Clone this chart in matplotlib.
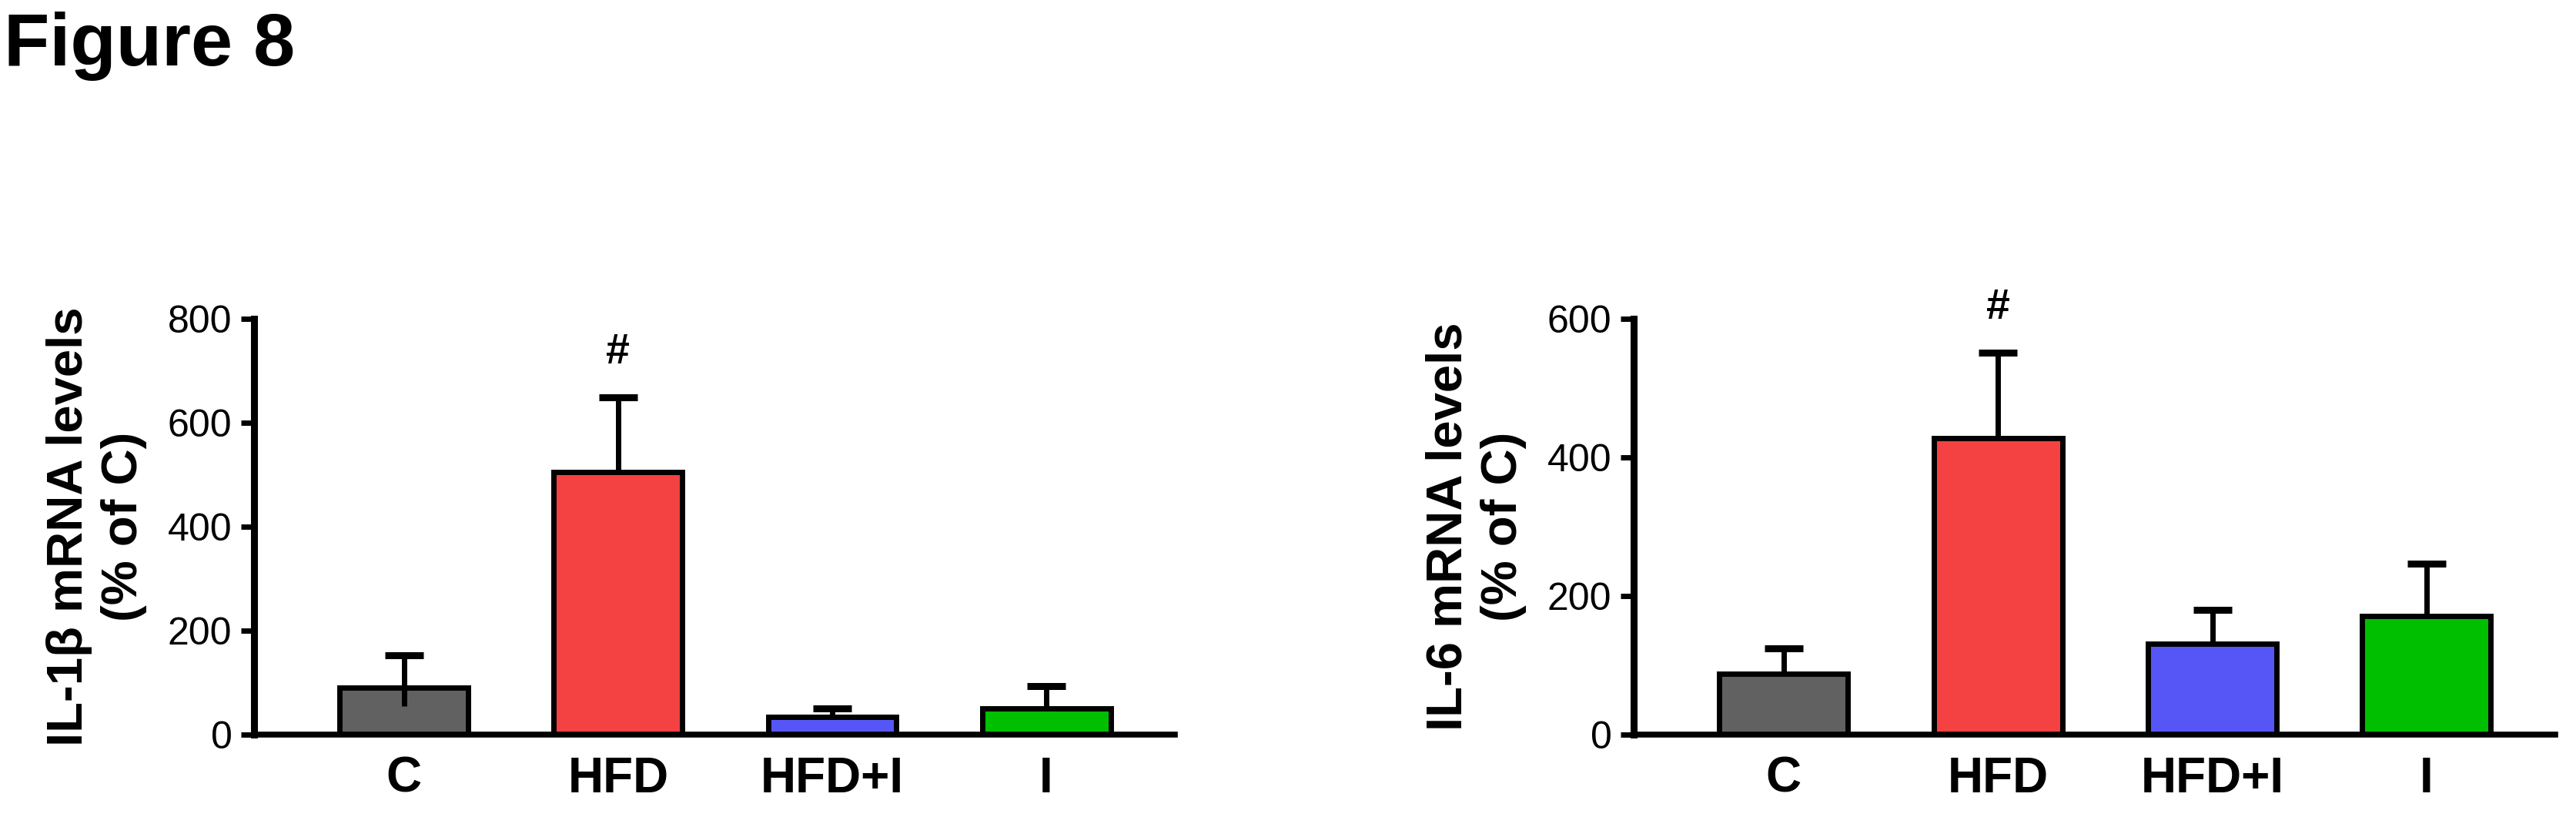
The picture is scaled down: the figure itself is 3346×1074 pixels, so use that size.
import numpy as np
from matplotlib import pyplot as plt

plt.rcParams["font.family"] = ["Liberation Sans", "DejaVu Sans"]

# Data
groups = ["C", "HFD", "HFD+I", "I"]
bar_colors = ["#616161", "#F44141", "#5656F6", "#00BF00"]

il1b_mean = [90, 505, 34, 50]
il1b_err_up = [62, 144, 16, 44]
il1b_err_down = [35, 0, 0, 0]  # whisker that shows inside the C bar
il1b_marks = ["", "#", "", ""]

il6_mean = [88, 428, 131, 171]
il6_err_up = [37, 123, 49, 76]
il6_err_down = [0, 0, 0, 0]
il6_marks = ["", "#", "", ""]

W, H = 3346, 1074
fig = plt.figure(figsize=(W / 100, H / 100), dpi=100)


def draw_panel(ax, mean, err_up, err_down, marks, ylabel, ymax):
    x = np.arange(len(groups))
    ax.bar(x, mean, width=0.6, color=bar_colors, edgecolor="black",
           linewidth=5, zorder=2)
    eb = ax.errorbar(x, mean, yerr=[err_down, err_up], fmt="none",
                     ecolor="black", elinewidth=5, capsize=18,
                     capthick=6.5, zorder=3)
    eb[1][0].set_visible(False)  # no cap on the lower side
    top = np.array(mean) + np.array(err_up)
    for xi, t, m in zip(x, top, marks):
        if m:
            ax.annotate(m, xy=(xi, t), xytext=(0, 42),
                        textcoords="offset points", ha="center",
                        va="center", fontsize=40, fontweight="bold",
                        annotation_clip=False)

    ax.set_xlim(-0.7, 3.6)
    ax.set_ylim(0, ymax)
    ax.set_yticks(np.arange(0, ymax + 1, 200))
    ax.set_xticks(x)
    ax.set_xticklabels(groups, fontsize=46, fontweight="bold")
    ax.tick_params(axis="x", length=0, pad=20)
    ax.tick_params(axis="y", length=12, width=5, labelsize=36, pad=8.6)

    for s in ["top", "right"]:
        ax.spines[s].set_visible(False)
    ax.spines["left"].set_linewidth(6.5)
    ax.spines["bottom"].set_linewidth(5.5)

    ax.set_ylabel(ylabel, fontsize=47, fontweight="bold", linespacing=1.25)
    ax.yaxis.set_label_coords(-0.116, 0.5)


ax1 = fig.add_axes([330 / W, 1 - 954 / H, 1196 / W, 540 / H])
draw_panel(ax1, il1b_mean, il1b_err_up, il1b_err_down, il1b_marks,
           "IL-1β mRNA levels\n(% of C)", 800)

ax2 = fig.add_axes([2122 / W, 1 - 954 / H, 1197 / W, 540 / H])
draw_panel(ax2, il6_mean, il6_err_up, il6_err_down, il6_marks,
           "IL-6 mRNA levels\n(% of C)", 600)

fig.text(5 / W, 1 - 85 / H, "Figure 8", fontsize=70, fontweight="bold",
         ha="left", va="baseline")

fig.savefig("out.png", dpi=100)
